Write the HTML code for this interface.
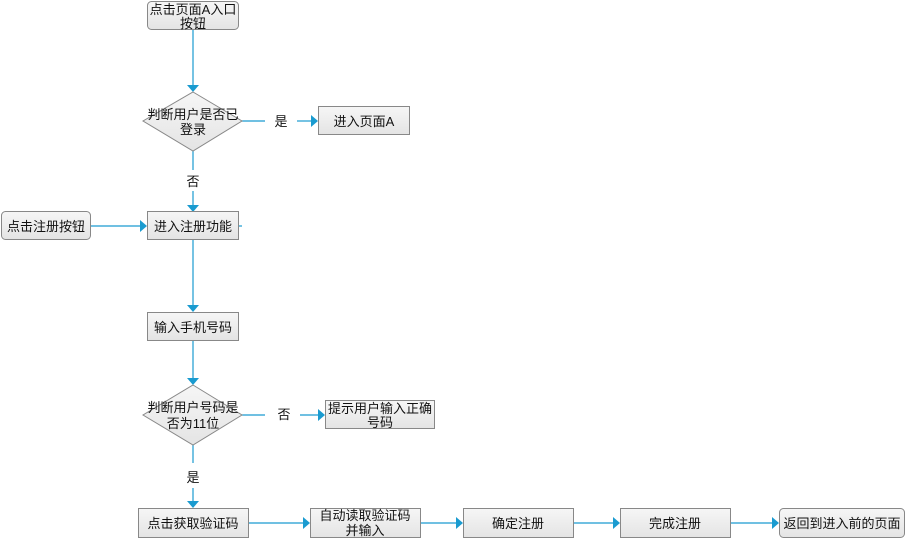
<!DOCTYPE html>
<html><head><meta charset="utf-8"><style>
html,body{margin:0;padding:0;background:#fff;}
svg{display:block;}
text{font-family:"Liberation Sans","Noto Sans CJK SC",sans-serif;font-size:13px;fill:#111;}
</style></head><body>
<svg width="906" height="539" viewBox="0 0 906 539" xmlns="http://www.w3.org/2000/svg">
<defs>
<linearGradient id="g" x1="0" y1="0" x2="0" y2="1"><stop offset="0" stop-color="#f6f6f6"/><stop offset="1" stop-color="#e4e4e4"/></linearGradient>
</defs>
<g stroke="#1a9bd0" stroke-width="1.2" fill="none">
<line x1="193" y1="30" x2="193" y2="86"/>
<line x1="242" y1="121" x2="265" y2="121"/>
<line x1="297" y1="121" x2="312" y2="121"/>
<line x1="193" y1="151" x2="193" y2="170"/>
<line x1="193" y1="191" x2="193" y2="206"/>
<line x1="91" y1="226" x2="141" y2="226"/>
<line x1="239" y1="226" x2="242" y2="226"/>
<line x1="193" y1="240" x2="193" y2="306"/>
<line x1="193" y1="341" x2="193" y2="379"/>
<line x1="242" y1="415" x2="265" y2="415"/>
<line x1="300" y1="415" x2="319" y2="415"/>
<line x1="193" y1="445" x2="193" y2="463"/>
<line x1="193" y1="488" x2="193" y2="502"/>
<line x1="248" y1="523" x2="304" y2="523"/>
<line x1="420" y1="523" x2="457" y2="523"/>
<line x1="573" y1="523" x2="614" y2="523"/>
<line x1="730" y1="523" x2="773" y2="523"/>
</g>
<g fill="#1a9bd0">
<polygon points="187,85 199,85 193,92"/>
<polygon points="311,115 311,127 318,121"/>
<polygon points="187,205 199,205 193,212"/>
<polygon points="140,220 140,232 147,226"/>
<polygon points="187,305 199,305 193,312"/>
<polygon points="187,378 199,378 193,385"/>
<polygon points="318,409 318,421 325,415"/>
<polygon points="187,501 199,501 193,508"/>
<polygon points="303,517 303,529 310,523"/>
<polygon points="456,517 456,529 463,523"/>
<polygon points="613,517 613,529 620,523"/>
<polygon points="772,517 772,529 779,523"/>
</g>
<g fill="url(#g)" stroke="#888" stroke-width="1">
<rect x="147.5" y="1.5" width="91" height="28" rx="4"/>
<polygon points="193,92 242,121 193,151 143,121"/>
<rect x="318.5" y="106.5" width="91" height="28"/>
<rect x="1.5" y="211.5" width="89" height="28" rx="4"/>
<rect x="147.5" y="211.5" width="91" height="28"/>
<rect x="147.5" y="312.5" width="91" height="28"/>
<polygon points="193,385 242,415 193,445 143,415"/>
<rect x="325.5" y="400.5" width="109" height="28"/>
<rect x="138.5" y="508.5" width="110" height="29"/>
<rect x="310.5" y="508.5" width="110" height="29"/>
<rect x="463.5" y="508.5" width="110" height="29"/>
<rect x="620.5" y="508.5" width="110" height="29"/>
<rect x="779.5" y="508.5" width="125" height="29" rx="4"/>
</g>
<g text-anchor="middle">
<text x="193" y="14">点击页面A入口</text>
<text x="193" y="28">按钮</text>
<text x="193" y="119">判断用户是否已</text>
<text x="193" y="134">登录</text>
<text x="281" y="126">是</text>
<text x="364" y="126">进入页面A</text>
<text x="193" y="186">否</text>
<text x="46" y="231">点击注册按钮</text>
<text x="193" y="231">进入注册功能</text>
<text x="193" y="332">输入手机号码</text>
<text x="193" y="412">判断用户号码是</text>
<text x="193" y="428">否为11位</text>
<text x="284" y="419">否</text>
<text x="380" y="413">提示用户输入正确</text>
<text x="380" y="427">号码</text>
<text x="193" y="482">是</text>
<text x="193" y="528">点击获取验证码</text>
<text x="365" y="520">自动读取验证码</text>
<text x="365" y="535">并输入</text>
<text x="518" y="528">确定注册</text>
<text x="675" y="528">完成注册</text>
<text x="842" y="528">返回到进入前的页面</text>
</g>
</svg>
</body></html>
